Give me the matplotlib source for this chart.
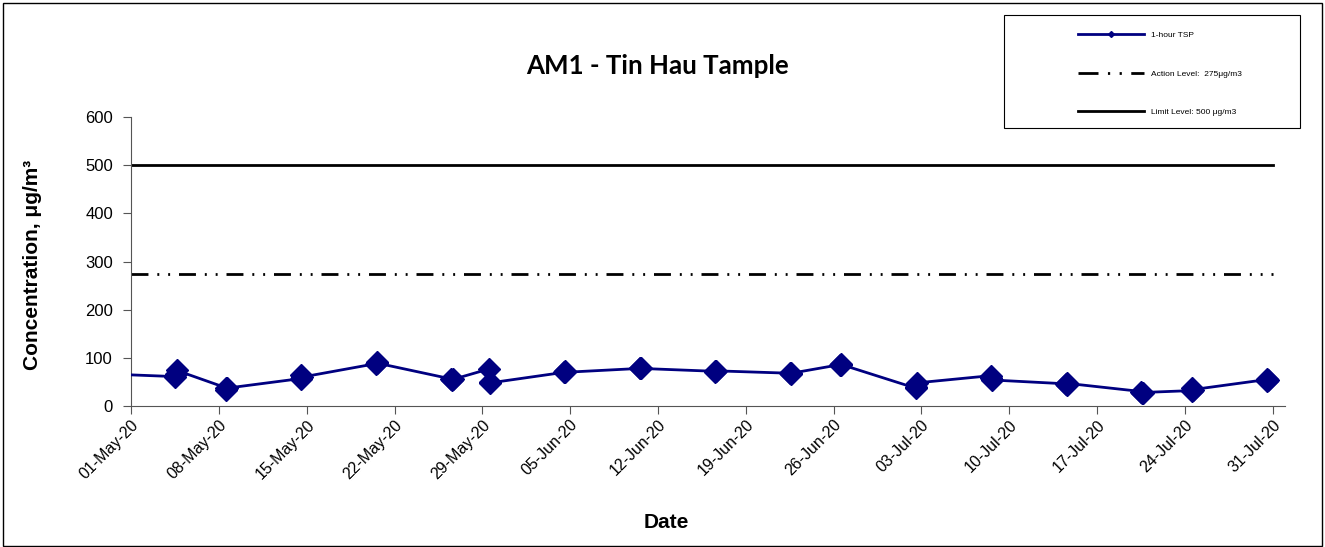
import matplotlib
matplotlib.use("Agg")
import matplotlib.pyplot as plt
import matplotlib.dates as mdates
from matplotlib.lines import Line2D
from matplotlib.patches import Rectangle
import pandas as pd
import numpy as np

plt.rcParams['font.family'] = ['Liberation Sans', 'DejaVu Sans']

# sampling dates, three 1-hour readings per day
dates = ['2020-04-28', '2020-05-04', '2020-05-08', '2020-05-14', '2020-05-20',
         '2020-05-26', '2020-05-29', '2020-06-04', '2020-06-10', '2020-06-16',
         '2020-06-22', '2020-06-26', '2020-07-02', '2020-07-08', '2020-07-14',
         '2020-07-20', '2020-07-24', '2020-07-30']
hours = ['13:00', '14:00', '15:00']
tsp = [[66, 67, 67],
       [61, 66, 74],
       [38, 34, 37],
       [57, 65, 60],
       [88, 91, 89],
       [56, 53, 55],
       [77, 49, 48],
       [70, 73, 70],
       [78, 79, 78],
       [72, 70, 73],
       [68, 66, 68],
       [86, 88, 86],
       [37, 40, 48],
       [63, 58, 54],
       [46, 44, 47],
       [30, 27, 28],
       [32, 38, 34],
       [55, 52, 54]]
action_level = 275
limit_level = 500

times = [pd.Timestamp(d + ' ' + h) for d in dates for h in hours]
values = [v for day in tsp for v in day]

fig = plt.figure(figsize=(13.25, 5.47), dpi=100)
fig.patches.append(Rectangle((0.002, 0.002), 0.996, 0.993, transform=fig.transFigure,
                             fill=False, edgecolor='black', linewidth=1))
ax = fig.add_axes([0.0989, 0.2578, 0.8711, 0.5282])

start = pd.Timestamp('2020-05-01')
end = pd.Timestamp('2020-07-31')
dash_dot_dot = (6.1, 3.2, 0.7, 3.2, 0.7, 3.2)

ax.plot(times, values, color='#000080', linewidth=2, marker='D', markersize=11,
        markeredgecolor='#000080', zorder=3)
ax.plot([start, end], [action_level, action_level], color='black', linewidth=2,
        dashes=dash_dot_dot)
ax.plot([start, end], [limit_level, limit_level], color='black', linewidth=2)

ax.set_xlim(start, pd.Timestamp('2020-08-01'))
ax.set_ylim(0, 600)
ax.set_yticks(np.arange(0, 601, 100))
ax.set_xticks(pd.date_range(start, end, freq='7D'))
ax.xaxis.set_major_formatter(mdates.DateFormatter('%d-%b-%y'))
plt.setp(ax.get_xticklabels(), rotation=45, ha='right', rotation_mode='anchor')
ax.tick_params(direction='out', length=6, color='#555555')
ax.tick_params(axis='y', labelsize=12, pad=7)
ax.tick_params(axis='x', labelsize=11.5, pad=2)
for s in ['top', 'right']:
    ax.spines[s].set_visible(False)
for s in ['left', 'bottom']:
    ax.spines[s].set_color('#555555')

ax.set_xlabel('Date', fontsize=15, fontweight='bold', va='center')
ax.xaxis.set_label_coords(0.4636, -0.405)
ax.set_ylabel('Concentration, μg/m³', fontsize=15, fontweight='bold', va='center')
ax.yaxis.set_label_coords(-0.0858, 0.49)
fig.text(0.4966, 0.88, 'AM1 - Tin Hau Tample', fontsize=18.6, fontweight='bold',
         family=['Lato', 'DejaVu Sans'], ha='center', va='center')

# legend box
fig.patches.append(Rectangle((1004 / 1325, 1 - 128 / 547), 296 / 1325, 113 / 547,
                             transform=fig.transFigure, fill=False,
                             edgecolor='black', linewidth=0.8))
handles = [Line2D([], [], color='#000080', linewidth=2, marker='D', markersize=3),
           Line2D([], [], color='black', linewidth=2, dashes=(7.2, 3.4, 0.8, 3.4, 0.8, 3.4)),
           Line2D([], [], color='black', linewidth=2)]
labels = ['1-hour TSP', 'Action Level:  275μg/m3', 'Limit Level: 500 μg/m3']
fig.legend(handles, labels, loc='upper left', bbox_to_anchor=(1070 / 1325, 1 - 24 / 547),
           frameon=False, fontsize=6, handlelength=8, labelspacing=3.65,
           handletextpad=0.8)

fig.savefig('out.png', dpi=100)
